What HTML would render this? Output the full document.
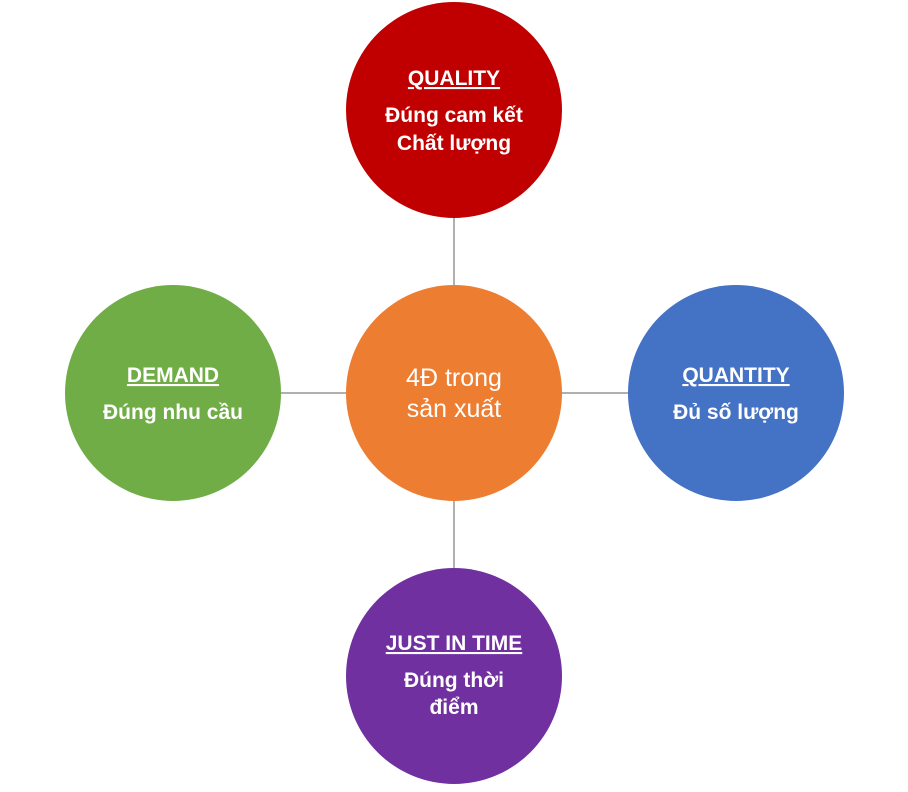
<!DOCTYPE html>
<html><head><meta charset="utf-8"><style>
html,body{margin:0;padding:0;background:#fff;}
svg text{font-family:"Liberation Sans","DejaVu Sans",sans-serif;fill:#fff;text-anchor:middle;}
.b{font-weight:bold;font-size:21px;}
</style></head><body>
<svg width="908" height="787" viewBox="0 0 908 787">
<g stroke="#B0B0B0" stroke-width="2">
<line x1="454" y1="218" x2="454" y2="285"/>
<line x1="454" y1="501" x2="454" y2="568"/>
<line x1="281" y1="393" x2="346" y2="393"/>
<line x1="562" y1="393" x2="628" y2="393"/>
</g>
<circle cx="454" cy="110" r="108" fill="#C00000"/>
<circle cx="454" cy="393" r="108" fill="#ED7D31"/>
<circle cx="173" cy="393" r="108" fill="#70AD47"/>
<circle cx="736" cy="393" r="108" fill="#4472C4"/>
<circle cx="454" cy="676" r="108" fill="#7030A0"/>
<text class="b" x="454" y="85" text-decoration="underline">QUALITY</text>
<text class="b" x="454" y="122">Đúng cam kết</text>
<text class="b" x="454" y="150">Chất lượng</text>
<text x="454" y="386" font-size="25">4Đ trong</text>
<text x="454" y="417" font-size="25">sản xuất</text>
<text class="b" x="173" y="382" text-decoration="underline">DEMAND</text>
<text class="b" x="173" y="419">Đúng nhu cầu</text>
<text class="b" x="736" y="382" text-decoration="underline">QUANTITY</text>
<text class="b" x="736" y="419">Đủ số lượng</text>
<text class="b" x="454" y="650" text-decoration="underline">JUST IN TIME</text>
<text class="b" x="454" y="687">Đúng thời</text>
<text class="b" x="454" y="714">điểm</text>
</svg>
</body></html>
